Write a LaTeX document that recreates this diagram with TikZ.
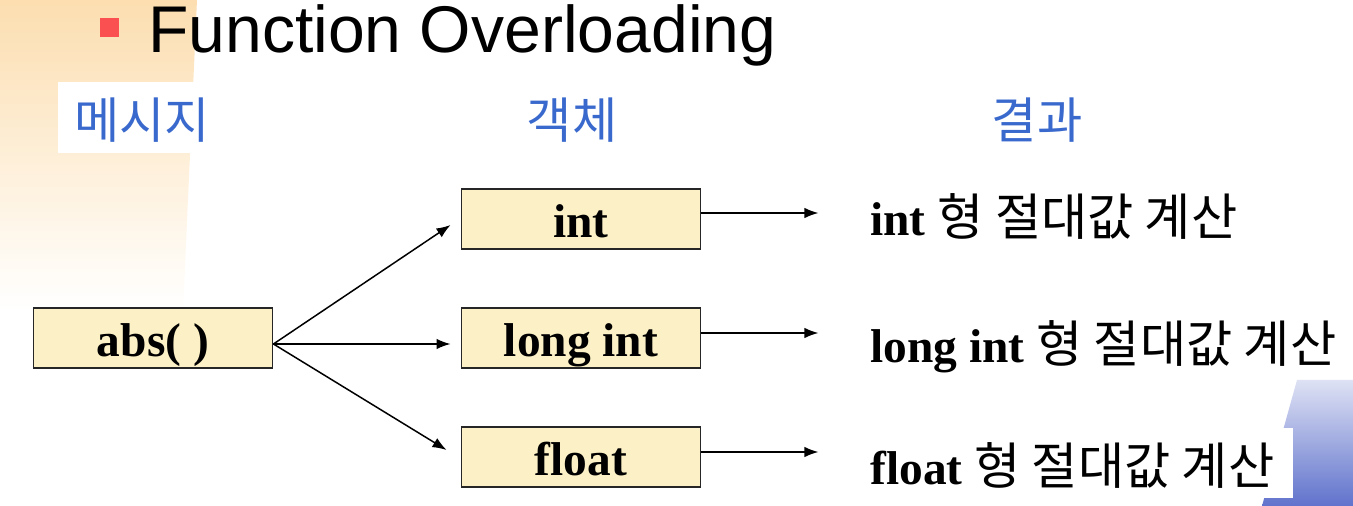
\documentclass[tikz,border=0pt]{standalone}
\usepackage{fontspec}
\setmainfont{Liberation Serif}
\setsansfont{Liberation Sans}
\newfontfamily\kofont{Noto Sans CJK KR}
\usetikzlibrary{arrows.meta}
\definecolor{boxfill}{RGB}{252,241,198}
\definecolor{headblue}{RGB}{58,105,205}
\definecolor{bulletred}{RGB}{250,80,82}
\definecolor{peach}{RGB}{252,222,176}
\definecolor{paleblue}{RGB}{222,226,244}
\definecolor{deepblue}{RGB}{96,114,204}
\tikzset{
  typebox/.style={draw=black!85,line width=1.1pt,fill=boxfill,
    minimum width=4.78cm,minimum height=1.2cm,inner sep=0pt,
    text height=0.75cm,text depth=0cm,
    font=\fontsize{27}{30}\selectfont\bfseries},
  header/.style={text=headblue,font=\kofont\fontsize{28}{32}\selectfont},
  result/.style={anchor=west,inner sep=0pt,font=\fontsize{27}{30}\selectfont\bfseries},
  msg/.style={-{Latex[length=8pt,width=6pt]},line width=0.85pt}
}
\newcommand{\absval}{{\kofont\mdseries\fontsize{28.6}{30}\selectfont 형 절대값 계산}}

\begin{document}
\begin{tikzpicture}[x=0.02cm,y=-0.02cm]
  \useasboundingbox (0,0) rectangle (1353,506);
  % slide background
  \shade[top color=peach,bottom color=white] (0,0) -- (197,0) -- (183,310) -- (0,310) -- cycle;
  \shade[top color=paleblue,bottom color=deepblue] (1297,380) -- (1353,380) -- (1353,506) -- (1262,506) -- cycle;
  \fill[white] (58,82) rectangle (208,153);
  \fill[white] (860,428) rectangle (1293,498);

  % title
  \fill[bulletred] (100,18) rectangle (119,37);
  \node[anchor=base west,inner sep=0pt,font=\sffamily\fontsize{37.6}{40}\selectfont] (title) at (148,53) {Function Overloading};

  % column headers
  \node[header] (msghead) at (142,120) {메시지};
  \node[header] (objhead) at (572,120) {객체};
  \node[header] (reshead) at (1037,120) {결과};

  % message and objects
  \node[typebox] (abs) at (153,338) {abs( )};
  \node[typebox] (int) at (581,219) {int};
  \node[typebox] (long) at (581,338) {long int};
  \node[typebox] (float) at (581,457) {float};

  \coordinate (absout) at ([yshift=-0.12cm]abs.east);
  \draw[msg] (absout) -- ([shift={(-0.2cm,-0.12cm)}]int.west);
  \draw[msg] (absout) -- ([shift={(-0.2cm,-0.12cm)}]long.west);
  \draw[msg] (absout) -- ([shift={(-0.28cm,0.14cm)}]float.west);

  % results
  \node[result] (intres) at (870,216) {int \absval};
  \node[result] (longres) at (870,347) {long int \absval};
  \node[result] (floatres) at (870,465) {float \absval};

  \draw[msg] ([yshift=0.12cm]int.east) -- ++(117,0);
  \draw[msg] ([yshift=0.1cm]long.east) -- ++(117,0);
  \draw[msg] ([yshift=0.1cm]float.east) -- ++(117,0);
\end{tikzpicture}
\end{document}
